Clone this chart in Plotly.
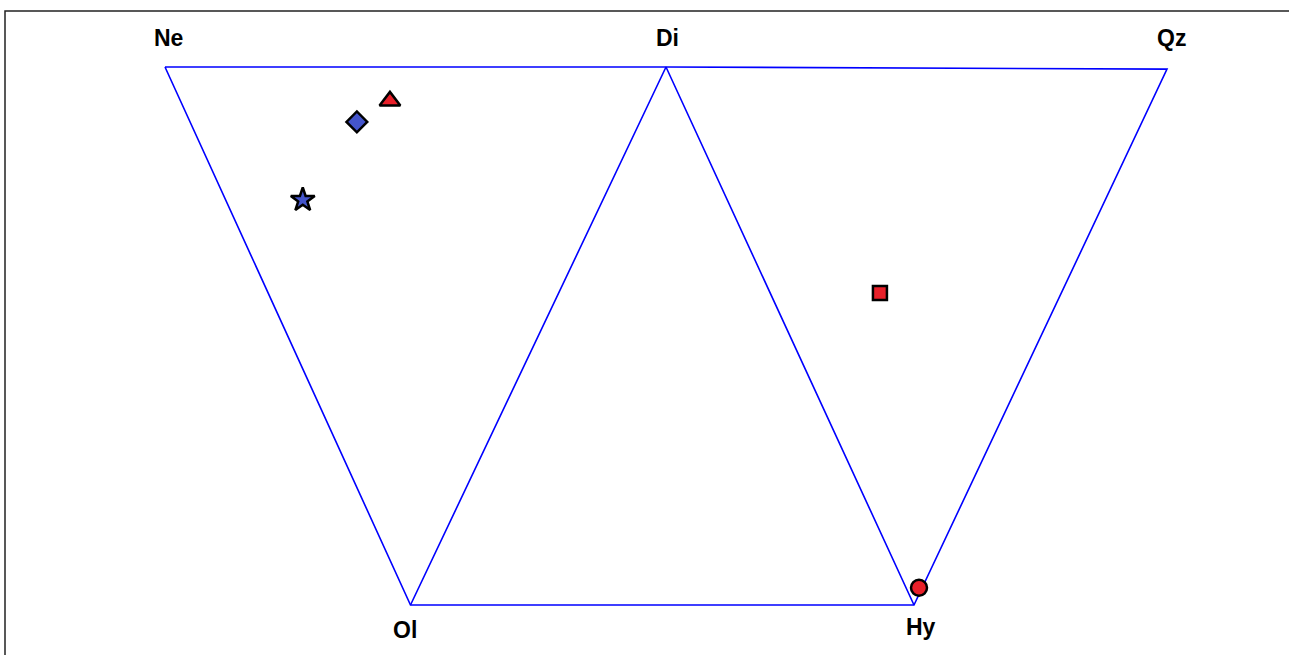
import plotly.graph_objects as go

# apex names and positions (Ne-Di-Qz along the top, Ol-Hy along the bottom)
apex_names = ["Ne", "Di", "Qz", "Ol", "Hy"]
apex_x = [0.0, 1.0, 2.0, 0.49, 1.495]
apex_y = [1.0, 1.0, 0.996, 0.0, 0.0]

# samples
sample_x = [0.449, 0.383, 0.275, 1.427, 1.505]
sample_y = [0.937, 0.898, 0.753, 0.580, 0.032]
sample_symbol = ["triangle-up", "diamond", "star", "square", "circle"]
sample_color = ["#e8202a", "#4455cc", "#4455cc", "#e8202a", "#e8202a"]
sample_size = [18, 16, 18, 14, 16]

pos = dict(zip(apex_names, zip(apex_x, apex_y)))
path = ["Ne", "Di", "Qz", "Hy", "Ol", "Ne", None, "Ol", "Di", "Hy"]
line_x = [pos[p][0] if p else None for p in path]
line_y = [pos[p][1] if p else None for p in path]

fig = go.Figure()
fig.add_trace(go.Scatter(x=line_x, y=line_y, mode="lines",
                         line=dict(color="#0000ff", width=1.6),
                         hoverinfo="skip", showlegend=False))
fig.add_trace(go.Scatter(x=sample_x, y=sample_y, mode="markers",
                         marker=dict(symbol=sample_symbol, color=sample_color, size=sample_size,
                                     opacity=1, line=dict(color="black", width=2.5)),
                         showlegend=False))

# apex labels, above for the top row and below for the bottom row
label_dx = {"Ne": 3, "Di": 1, "Qz": 4, "Ol": -5, "Hy": 7}
label_dy = {"Ne": 29, "Di": 29, "Qz": 31, "Ol": -25, "Hy": -22}
for name, x, y in zip(apex_names, apex_x, apex_y):
    fig.add_annotation(x=x, y=y, text="<b>" + name + "</b>", showarrow=False,
                       xshift=label_dx[name], yshift=label_dy[name],
                       font=dict(family="Liberation Sans, Arial", size=23, color="black"))

# frame line along top and left
fig.add_shape(type="rect", xref="paper", yref="paper",
              x0=5 / 1289, x1=1.02, y0=-0.02, y1=1 - 11 / 655,
              line=dict(color="#222222", width=1.5))

fig.update_xaxes(range=[-165 / 501, 1124 / 501], visible=False, fixedrange=True)
fig.update_yaxes(range=[-50 / 538, 605 / 538], visible=False, fixedrange=True)
fig.update_layout(width=1289, height=655, margin=dict(l=0, r=0, t=0, b=0),
                  plot_bgcolor="white", paper_bgcolor="white")

fig.write_html("out.html", config={"displayModeBar": False},
               post_script="document.body.style.margin='0px';")
